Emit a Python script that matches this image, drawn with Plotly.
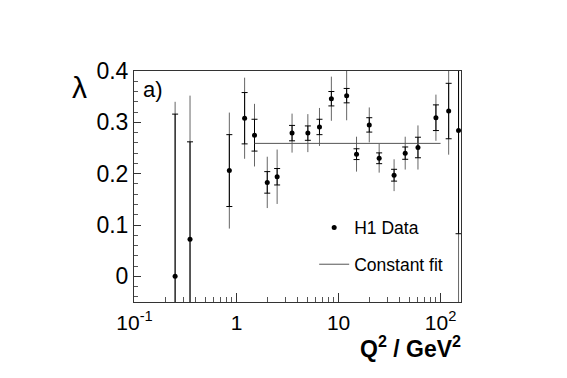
import plotly.graph_objects as go

# Data
q2 = [0.25, 0.35, 0.85, 1.2, 1.5, 2.0, 2.5, 3.5, 5.0, 6.5, 8.5, 12, 15, 20, 25, 35, 45, 60, 90, 120, 150]
lam = [0.0, 0.072, 0.206, 0.308, 0.275, 0.183, 0.194, 0.279, 0.279, 0.291, 0.346, 0.352,
       0.238, 0.295, 0.230, 0.197, 0.240, 0.251, 0.309, 0.322, 0.284]
err_stat = [0.316, 0.19, 0.07, 0.05, 0.031, 0.021, 0.016, 0.015, 0.014, 0.015, 0.014, 0.014,
            0.0105, 0.014, 0.0105, 0.0115, 0.012, 0.02, 0.025, 0.054, 0.201]
err_tot = [0.34, 0.28, 0.113, 0.079, 0.061, 0.05, 0.053, 0.038, 0.037, 0.037, 0.043, 0.048,
           0.034, 0.034, 0.028, 0.031, 0.032, 0.043, 0.045, 0.085, 0.40]
fit_q2 = [1.5, 100]
fit_val = [0.259, 0.259]

x_tickvals = [0.1, 1, 10, 100]
x_ticktext = ["10<sup>-1</sup>", "1", "10", "10<sup>2</sup>"]
y_tickvals = [0, 0.1, 0.2, 0.3, 0.4]
y_ticktext = ["0", "0.1", "0.2", "0.3", "0.4"]

FONT = "Liberation Sans, Arial, sans-serif"

fig = go.Figure()

# total error (outer, no caps)
fig.add_trace(go.Scatter(
    x=q2, y=lam, mode="markers", showlegend=False,
    marker=dict(size=1, color="rgba(0,0,0,0)"),
    error_y=dict(type="data", array=err_tot, color="#666666", thickness=1, width=0),
    hoverinfo="skip",
))
# statistical error (inner, with caps) + markers
fig.add_trace(go.Scatter(
    x=q2, y=lam, mode="markers", name="H1 Data", legendgroup="a",
    marker=dict(size=5, color="black"),
    error_y=dict(type="data", array=err_stat, color="black", thickness=1, width=3),
))
fig.add_trace(go.Scatter(
    x=fit_q2, y=fit_val, mode="lines", name="Constant fit", legendgroup="b",
    line=dict(color="#555555", width=1),
))

minor_x = [v * m for v in [0.1, 1, 10, 100] for m in range(2, 10) if v * m < 160]

fig.update_xaxes(
    type="log", range=[-1.005, 2.2],
    tickvals=x_tickvals, ticktext=x_ticktext,
    ticks="inside", ticklen=9, tickcolor="#333",
    minor=dict(tickvals=minor_x, ticks="inside", ticklen=5, tickcolor="#555"),
    showline=True, linecolor="#333", linewidth=1, mirror=True,
    showgrid=False, zeroline=False,
    tickfont=dict(family=FONT, size=21, color="black"),
    ticklabelstandoff=2,
)
fig.update_yaxes(
    range=[-0.05, 0.4],
    tickvals=y_tickvals, ticktext=y_ticktext,
    ticks="inside", ticklen=7, tickcolor="#333",
    minor=dict(dtick=0.02, tick0=0, ticks="inside", ticklen=4, tickcolor="#555"),
    showline=True, linecolor="#333", linewidth=1, mirror=True,
    showgrid=False, zeroline=False,
    tickfont=dict(family=FONT, size=23, color="black"),
)

fig.update_layout(
    width=567, height=378,
    margin=dict(l=126, r=114, t=63, b=84),
    paper_bgcolor="white", plot_bgcolor="white",
    font=dict(family=FONT, color="black"),
    legend=dict(
        x=0.551, y=0.40, xanchor="left", yanchor="top",
        bgcolor="rgba(0,0,0,0)", borderwidth=0,
        font=dict(family=FONT, size=17.5, color="black"),
        traceorder="grouped", tracegroupgap=11, itemwidth=30,
    ),
    annotations=[
        dict(text="λ", xref="paper", yref="paper", x=-0.167, y=0.93,
             showarrow=False, font=dict(family=FONT, size=30, color="black"),
             xanchor="center", yanchor="middle"),
        dict(text="a)", xref="paper", yref="paper", x=0.022, y=0.918,
             showarrow=False, font=dict(family=FONT, size=22, color="black"),
             xanchor="left", yanchor="middle"),
        dict(text="<b>Q<sup>2</sup> / GeV<sup>2</sup></b>", xref="paper", yref="paper",
             x=1.005, y=-0.195, showarrow=False,
             font=dict(family=FONT, size=23, color="black"),
             xanchor="right", yanchor="middle"),
    ],
)

fig.write_html("out.html")
